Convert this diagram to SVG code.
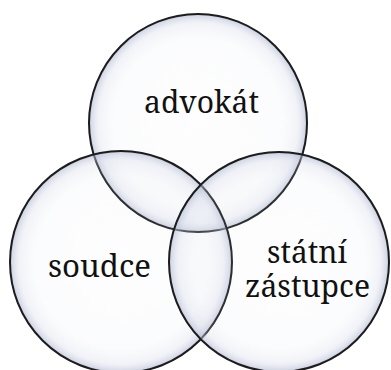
<svg xmlns="http://www.w3.org/2000/svg" width="391" height="370" viewBox="0 0 391 370">
<defs>
<radialGradient id="glass" cx="50%" cy="50%" r="50%">
<stop offset="0" stop-color="#e4e8f0" stop-opacity="0.06"/>
<stop offset="0.78" stop-color="#dce1ec" stop-opacity="0.11"/>
<stop offset="0.92" stop-color="#ccd2e3" stop-opacity="0.28"/>
<stop offset="0.98" stop-color="#b6bed5" stop-opacity="0.55"/>
<stop offset="1" stop-color="#9ca4bc" stop-opacity="0.7"/>
</radialGradient>
</defs>
<style>
.c{fill:url(#glass);stroke:#1c1c1c;stroke-width:2}
.t{font-family:'Noto Serif','DejaVu Serif','Liberation Serif',serif;font-size:31px;fill:#111;text-anchor:middle}
</style>
<rect width="391" height="370" fill="#ffffff"/>
<g id="advokat">
<circle class="c" cx="198" cy="123" r="109"/>
<text class="t" x="201.5" y="113" textLength="115" lengthAdjust="spacingAndGlyphs">advokát</text>
</g>
<g id="soudce">
<circle class="c" cx="121" cy="262" r="111"/>
<text class="t" x="99.5" y="277" textLength="103" lengthAdjust="spacingAndGlyphs">soudce</text>
</g>
<g id="statni-zastupce">
<circle class="c" cx="279" cy="262" r="110"/>
<text class="t" x="307" y="263" textLength="80" lengthAdjust="spacingAndGlyphs">státní</text>
<text class="t" x="307.5" y="297" textLength="125" lengthAdjust="spacingAndGlyphs">zástupce</text>
</g>
</svg>
